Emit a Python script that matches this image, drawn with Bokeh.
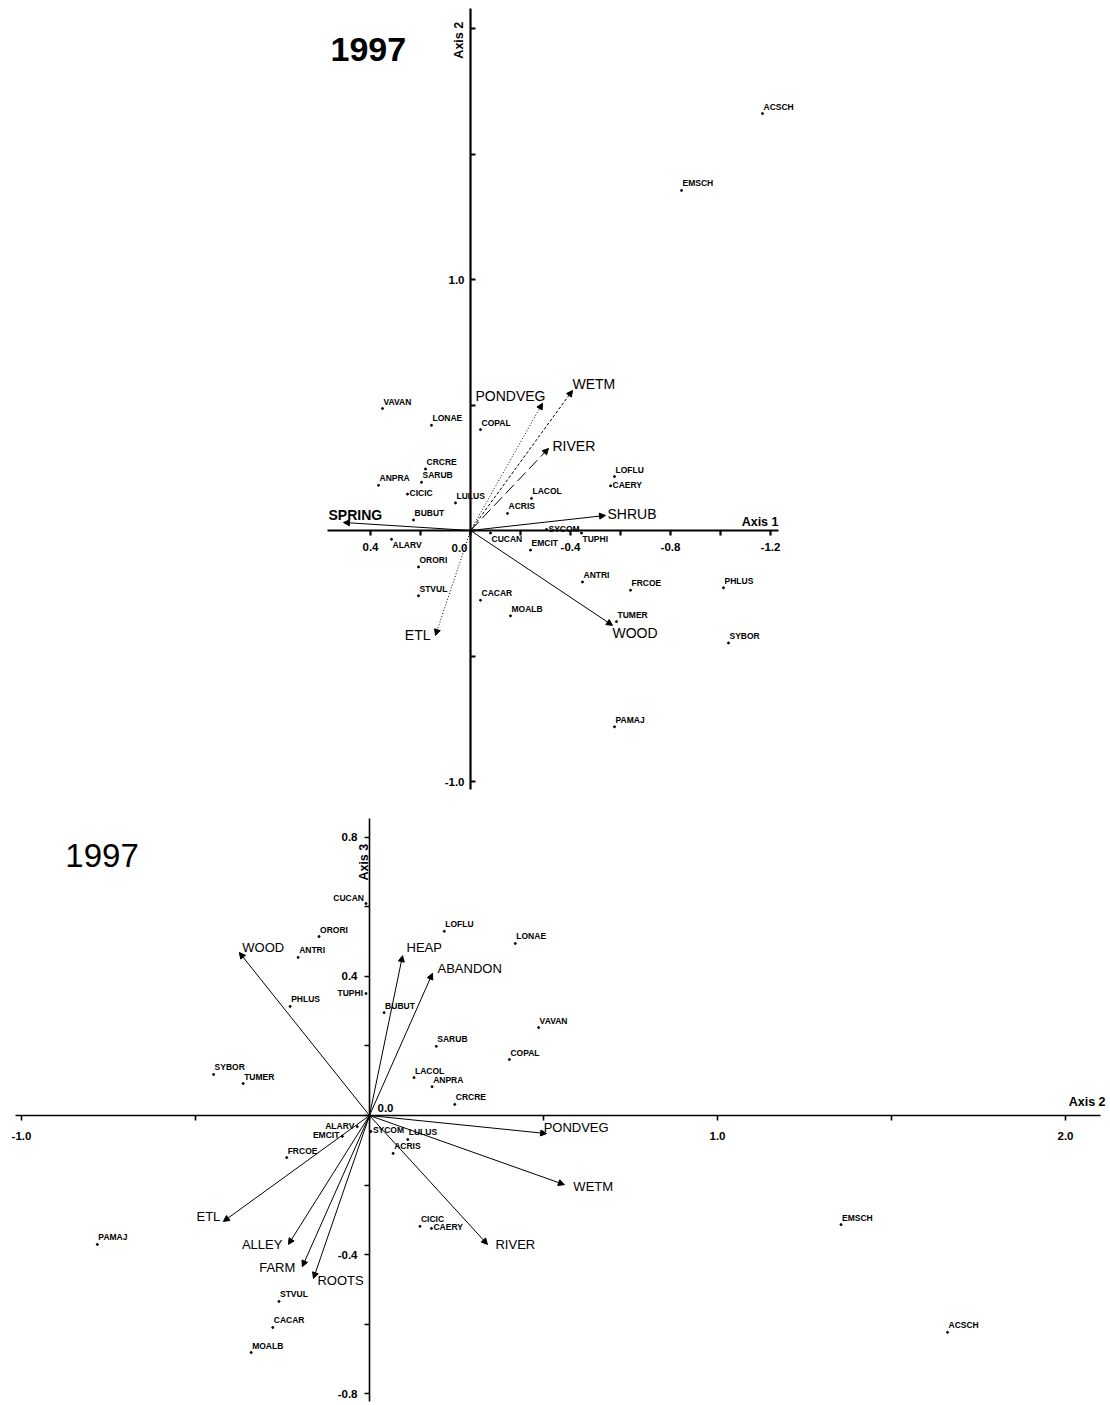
import math
from bokeh.plotting import figure
from bokeh.models import (ColumnDataSource, Range1d, LinearAxis, FixedTicker,
                          PrintfTickFormatter, Arrow, NormalHead, Label)
from bokeh.layouts import column
from bokeh.embed import file_html
from bokeh.resources import INLINE
from bokeh.core.properties import value

# ---------------- data ----------------
species = ["ACSCH", "EMSCH", "VAVAN", "LONAE", "COPAL", "CRCRE", "SARUB", "ANPRA",
           "CICIC", "LULUS", "BUBUT", "LACOL", "ACRIS", "SYCOM", "CUCAN", "EMCIT",
           "TUPHI", "ALARV", "ORORI", "STVUL", "CACAR", "MOALB", "ANTRI", "FRCOE",
           "PHLUS", "TUMER", "SYBOR", "PAMAJ", "LOFLU", "CAERY"]
sp_axis1 = [-1.168, -0.844, 0.352, 0.156, -0.040, 0.180, 0.196, 0.368,
            0.252, 0.060, 0.228, -0.244, -0.148, -0.304, -0.080, -0.240,
            -0.444, 0.316, 0.208, 0.208, -0.040, -0.160, -0.448, -0.640,
            -1.012, -0.584, -1.032, -0.576, -0.576, -0.560]
sp_axis2 = [1.661, 1.355, 0.486, 0.419, 0.402, 0.245, 0.192, 0.180,
            0.145, 0.110, 0.042, 0.128, 0.068, 0.004, -0.010, -0.078,
            -0.010, -0.035, -0.145, -0.260, -0.278, -0.340, -0.205, -0.238,
            -0.228, -0.363, -0.448, -0.782, 0.215, 0.178]
sp_axis3 = [-0.624, -0.314, 0.253, 0.495, 0.161, 0.032, 0.199, 0.083,
            -0.319, -0.069, 0.296, 0.109, -0.109, -0.046, 0.610, -0.060,
            0.351, -0.032, 0.515, -0.535, -0.610, -0.682, 0.455, -0.121,
            0.314, 0.092, 0.118, -0.371, 0.530, -0.325]

env1_names = ["SPRING", "SHRUB", "WOOD", "ETL", "PONDVEG", "WETM", "RIVER"]
env1_axis1 = [0.508, -0.540, -0.568, 0.140, -0.288, -0.408, -0.312]
env1_axis2 = [0.032, 0.060, -0.378, -0.418, 0.507, 0.558, 0.327]

env2_names = ["WOOD", "HEAP", "ABANDON", "ETL", "ALLEY", "FARM", "ROOTS",
              "RIVER", "WETM", "PONDVEG"]
env2_axis2 = [-0.374, 0.095, 0.181, -0.420, -0.233, -0.193, -0.161, 0.339, 0.560, 0.509]
env2_axis3 = [0.469, 0.460, 0.409, -0.305, -0.371, -0.435, -0.469, -0.371, -0.199, -0.052]

top_x_major = [0.4, -0.4, -0.8, -1.2]
top_x_minor = [0.2, 0.0, -0.2, -0.6, -1.0]
top_y_major = [1.0, -1.0]
top_y_minor = [2.0, 1.5, 0.5, 0.0, -0.5]
bot_x_major = [-1.0, 1.0, 2.0]
bot_x_minor = [-0.5, 0.0, 0.5, 1.5]
bot_y_major = [0.8, 0.4, -0.4, -0.8]
bot_y_minor = [0.6, 0.2, 0.0, -0.2, -0.6]

# ---------------- styles ----------------
FONT = "Liberation Sans"
PLACE = {"ur": ("left", 1, -7), "r": ("left", 2, -1), "lr": ("left", 1, 6),
         "ul": ("right", -2, -6), "l": ("right", -3, -1)}
top_place = {"CUCAN": "lr", "TUPHI": "lr", "ALARV": "lr", "CAERY": "r", "SYCOM": "r",
             "CICIC": "r"}
bot_place = {"CUCAN": "ul", "TUPHI": "l", "ALARV": "l", "EMCIT": "l", "CAERY": "r",
             "SYCOM": "r"}

env1_dash = {"SPRING": "solid", "SHRUB": "solid", "WOOD": "solid", "ETL": "1 2",
             "PONDVEG": "1 2", "WETM": "3 2", "RIVER": "12 5"}
env1_lab = {"SPRING": ("left", -15, -7), "SHRUB": ("left", 2, -1), "WOOD": ("left", 0, 8),
            "ETL": ("right", -5, 0), "PONDVEG": ("right", 3, -7), "WETM": ("left", 0, -6),
            "RIVER": ("left", 4, -2)}
env2_lab = {"WOOD": ("left", 3, -5), "HEAP": ("left", 4, -8), "ABANDON": ("left", 5, -5),
            "ETL": ("right", -3, -5), "ALLEY": ("right", -6, 0), "FARM": ("right", -7, 1),
            "ROOTS": ("left", 4, 2), "RIVER": ("left", 8, 0), "WETM": ("left", 9, 2),
            "PONDVEG": ("left", -3, -6)}


def make_axis(major, minor, bounds, width, tin, tout, standoff):
    ax = LinearAxis(fixed_location=0, bounds=bounds,
                    ticker=FixedTicker(ticks=major, minor_ticks=minor),
                    formatter=PrintfTickFormatter(format="%.1f"))
    ax.axis_line_width = width
    ax.axis_line_color = "black"
    ax.major_tick_in = tin
    ax.major_tick_out = tout
    ax.minor_tick_in = tin
    ax.minor_tick_out = tout
    ax.major_tick_line_color = "black"
    ax.minor_tick_line_color = "black"
    ax.major_tick_line_width = width
    ax.minor_tick_line_width = width
    ax.major_label_standoff = standoff
    ax.major_label_text_font = FONT
    ax.major_label_text_font_style = "bold"
    ax.major_label_text_font_size = "11.5px"
    ax.major_label_text_color = "black"
    return ax


def species_layer(p, xs, ys, place):
    al, xo, yo = [], [], []
    for s in species:
        a, dx, dy = PLACE[place.get(s, "ur")]
        al.append(a); xo.append(dx); yo.append(dy)
    src = ColumnDataSource(dict(x=xs, y=ys, name=species, al=al, xo=xo, yo=yo))
    p.scatter("x", "y", source=src, size=2, color="black")
    p.text("x", "y", text="name", source=src, text_align="al", x_offset="xo", y_offset="yo",
           text_baseline="middle", text_font_size=value("8.5px"),
           text_font_style=value("bold"), text_color="black", text_font=value(FONT))


def env_layer(p, names, xs, ys, labstyle, dashes, font_size, bold_names=()):
    groups = {}
    for n, x, y in zip(names, xs, ys):
        d = dashes.get(n, "solid") if dashes else "solid"
        groups.setdefault(d, ([], []))
        groups[d][0].append(x); groups[d][1].append(y)
    for d, (gx, gy) in groups.items():
        src = ColumnDataSource(dict(x=gx, y=gy))
        p.add_layout(Arrow(end=NormalHead(size=6, fill_color="black", line_color="black",
                                          line_width=1),
                           x_start=0, y_start=0, x_end="x", y_end="y", source=src,
                           line_color="black", line_width=1, line_dash=d))
    al = [labstyle[n][0] for n in names]
    xo = [labstyle[n][1] for n in names]
    yo = [labstyle[n][2] for n in names]
    st = ["bold" if n in bold_names else "normal" for n in names]
    src = ColumnDataSource(dict(x=xs, y=ys, name=names, al=al, xo=xo, yo=yo, st=st))
    p.text("x", "y", text="name", source=src, text_align="al", x_offset="xo", y_offset="yo",
           text_baseline="middle", text_font_size=value(font_size), text_font_style="st",
           text_color="black", text_font=value(FONT))


def label(p, x, y, text, size, style="bold", align="left", angle=0):
    p.add_layout(Label(x=x, y=y, text=text, angle=angle, text_font=FONT,
                       text_font_style=style, text_font_size=size, text_align=align,
                       text_baseline="middle", text_color="black"))


# ---------------- top chart (Axis 1 x Axis 2) ----------------
p1 = figure(width=1110, height=798, x_range=Range1d(1.88, -2.56),
            y_range=Range1d(-1.0677, 2.1116), output_backend="svg", toolbar_location=None,
            x_axis_type=None, y_axis_type=None, min_border=0)
p1.outline_line_color = None
p1.add_layout(make_axis(top_x_major, top_x_minor, (-1.232, 0.572), 2.2, 0, 5, 7), "below")
p1.add_layout(make_axis(top_y_major, top_y_minor, (-1.03, 2.08), 2.2, 5, 0, 6), "left")
env_layer(p1, env1_names, env1_axis1, env1_axis2, env1_lab, env1_dash, "14px",
          bold_names=("SPRING",))
species_layer(p1, sp_axis1, sp_axis2, top_place)
label(p1, 0.56, 1.918, "1997", "34px")
label(p1, -1.232, 0.034, "Axis 1", "12.5px", align="right")
label(p1, 0.046, 1.88, "Axis 2", "12.5px", angle=math.pi / 2)
label(p1, 0.012, -0.068, "0.0", "11.5px", align="right")

# ---------------- bottom chart (Axis 2 x Axis 3) ----------------
p2 = figure(width=1110, height=607, x_range=Range1d(-1.0603, 2.1293),
            y_range=Range1d(-0.8345, 0.9122), output_backend="svg", toolbar_location=None,
            x_axis_type=None, y_axis_type=None, min_border=0)
p2.outline_line_color = None
p2.add_layout(make_axis(bot_x_major, bot_x_minor, (-1.017, 2.10), 1.6, 0, 5, 11), "below")
p2.add_layout(make_axis(bot_y_major, bot_y_minor, (-0.823, 0.855), 1.6, 0, 5, 7), "left")
env_layer(p2, env2_names, env2_axis2, env2_axis3, env2_lab, None, "13px")
species_layer(p2, sp_axis2, sp_axis3, bot_place)
label(p2, -0.874, 0.748, "1997", "33px", style="normal")
label(p2, 2.115, 0.039, "Axis 2", "12.5px", align="right")
label(p2, -0.017, 0.676, "Axis 3", "12.5px", angle=math.pi / 2)
label(p2, 0.023, 0.023, "0.0", "11.5px")

layout = column(p1, p2)
open("out.html", "w").write(file_html(layout, INLINE))
